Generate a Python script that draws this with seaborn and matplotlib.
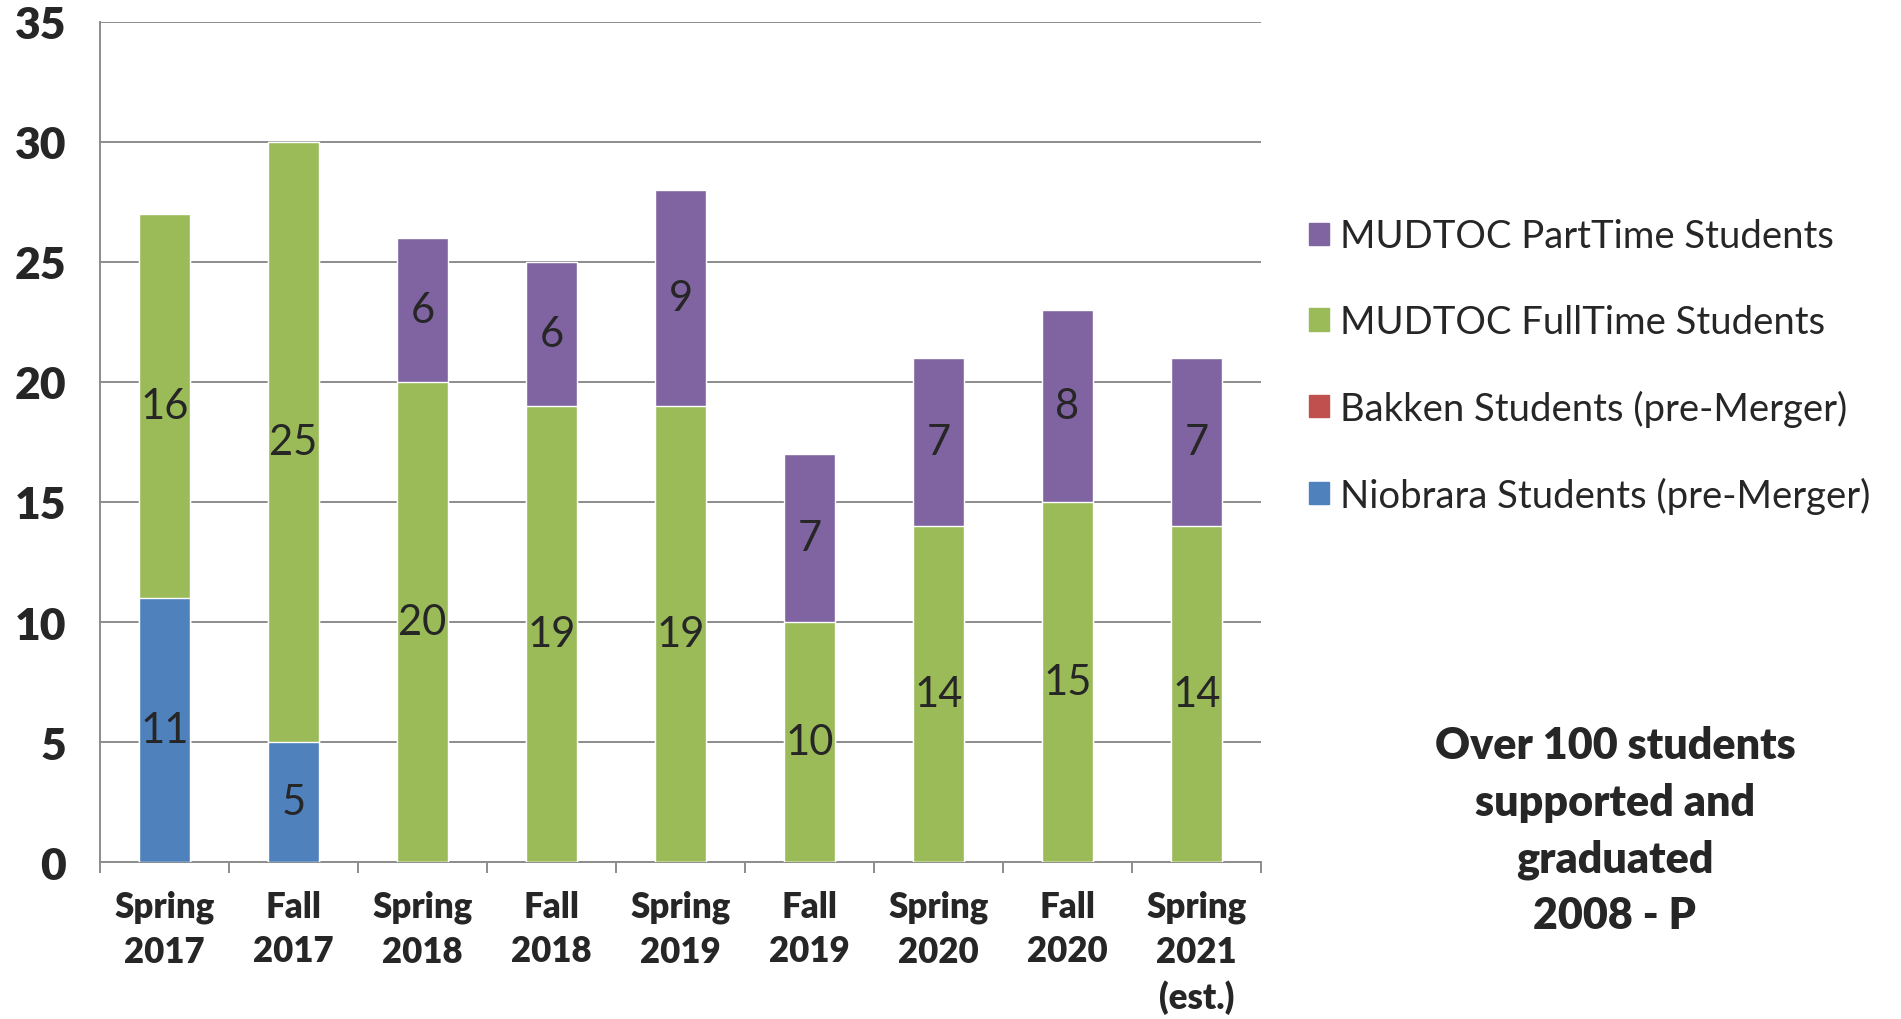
import numpy as np
import pandas as pd
import matplotlib
matplotlib.use("Agg")
import matplotlib.pyplot as plt
from matplotlib.patches import Patch
import seaborn as sns

semesters = ["Spring\n2017", "Fall\n2017", "Spring\n2018", "Fall\n2018", "Spring\n2019",
             "Fall\n2019", "Spring\n2020", "Fall\n2020", "Spring\n2021\n(est.)"]
niobrara = [11, 5, 0, 0, 0, 0, 0, 0, 0]
bakken = [0, 0, 0, 0, 0, 0, 0, 0, 0]
fulltime = [16, 25, 20, 19, 19, 10, 14, 15, 14]
parttime = [0, 0, 6, 6, 9, 7, 7, 8, 7]

c_part = "#8064A2"
c_full = "#9BBB59"
c_bak = "#C0504D"
c_nio = "#4F81BD"
grid_c = "#8C8C8C"

sns.set_style("white")
plt.rcParams["font.family"] = ["Lato", "DejaVu Sans"]

df = pd.DataFrame({"sem": semesters, "nio": niobrara, "bak": bakken,
                   "full": fulltime, "part": parttime})
df["s1"] = df["nio"] + df["bak"]
df["s2"] = df["s1"] + df["full"]
df["s3"] = df["s2"] + df["part"]

fig = plt.figure(figsize=(19.01, 10.20), dpi=100)
ax = fig.add_axes([0.0526, 0.1539, 0.6107, 0.8236])

# stacked by overdrawing cumulative totals
sns.barplot(data=df, x="sem", y="s3", color=c_part, width=0.4, saturation=1, ax=ax, zorder=3)
sns.barplot(data=df, x="sem", y="s2", color=c_full, width=0.4, saturation=1, ax=ax, zorder=3)
sns.barplot(data=df, x="sem", y="s1", color=c_nio, width=0.4, saturation=1, ax=ax, zorder=3)

# segment labels
lab_fs = 30
for i, r in df.iterrows():
    if r["nio"] > 0:
        ax.text(i, r["nio"] / 2, str(r["nio"]), ha="center", va="center", fontsize=lab_fs, zorder=4)
    if r["full"] > 0:
        ax.text(i, r["s1"] + r["full"] / 2, str(r["full"]), ha="center", va="center", fontsize=lab_fs, zorder=4)
    if r["part"] > 0:
        ax.text(i, r["s2"] + r["part"] / 2, str(r["part"]), ha="center", va="center", fontsize=lab_fs, zorder=4)

ax.set_ylim(0, 35)
ax.set_xlim(-0.5, len(semesters) - 0.5)
ax.set_yticks(range(0, 36, 5))
ax.yaxis.grid(True, color=grid_c, linewidth=1.4, zorder=0)
ax.set_axisbelow(True)
ax.set_xlabel("")
ax.set_ylabel("")
for s in ["top", "right"]:
    ax.spines[s].set_visible(False)
for s in ["left", "bottom"]:
    ax.spines[s].set_color(grid_c)
    ax.spines[s].set_linewidth(1.4)

ax.tick_params(axis="y", length=9.4, width=1.4, color=grid_c, pad=15, labelsize=32)
ax.set_yticklabels([str(v) for v in range(0, 36, 5)], fontweight="heavy")
ax.set_xticks(range(len(semesters)))
ax.set_xticklabels(semesters, fontweight="heavy", fontsize=25, linespacing=1.42)
ax.tick_params(axis="x", which="major", length=0, pad=20)
ax.set_xticks(np.arange(-0.5, len(semesters), 1), minor=True)
ax.tick_params(axis="x", which="minor", length=8, width=1.4, color=grid_c, bottom=True)

handles = [Patch(color=c_part), Patch(color=c_full), Patch(color=c_bak), Patch(color=c_nio)]
labels = ["MUDTOC PartTime Students", "MUDTOC FullTime Students",
          "Bakken Students (pre-Merger)", "Niobrara Students (pre-Merger)"]
fig.legend(handles, labels, loc="upper left", bbox_to_anchor=(0.6886, 0.785),
           frameon=False, fontsize=27.5, handlelength=0.52, handleheight=0.52,
           handletextpad=0.28, labelspacing=1.3, borderpad=0, borderaxespad=0)

fig.text(0.8495, 0.185, "Over 100 students\nsupported and\ngraduated\n2008 - P",
         ha="center", va="center", fontsize=31, fontweight="heavy", linespacing=1.5)

fig.savefig("out.png", dpi=100)
